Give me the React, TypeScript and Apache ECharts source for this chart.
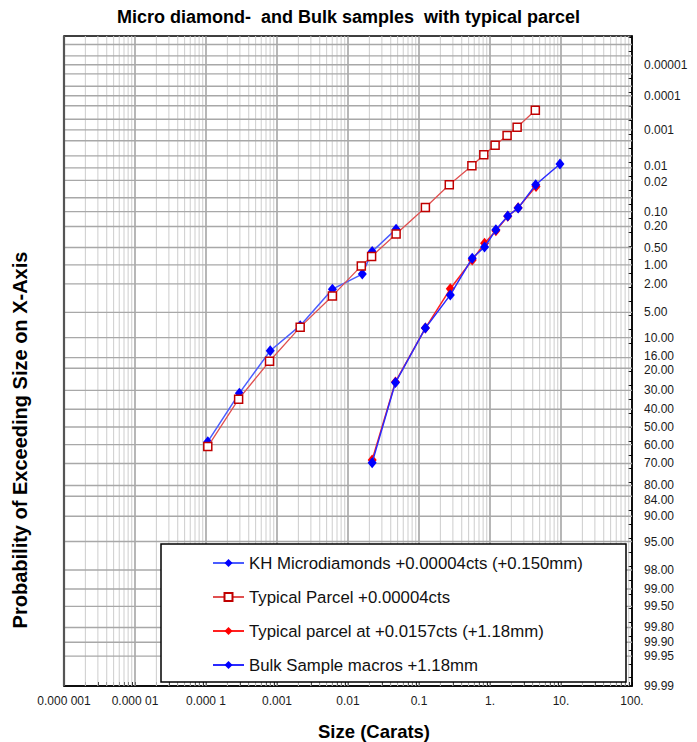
import React, { useEffect, useRef } from "react";
import * as echarts from "echarts";

// ---- Data ----
// sizes in carats, probabilities of exceeding in percent
const khCarats = [0.000106, 0.000295, 0.000803, 0.00212, 0.00603, 0.0159, 0.0219, 0.0476];
const khPct = [58.4, 31.4, 13.7, 7.3, 2.4, 1.41, 0.59, 0.226];

const parcelCarats = [0.000106, 0.000288, 0.000785, 0.00212, 0.00603, 0.0154, 0.0215, 0.0476, 0.123, 0.267, 0.556, 0.818, 1.18, 1.74, 2.41, 4.35];
const parcelPct = [61.1, 34.5, 17.3, 7.6, 3.0, 1.04, 0.72, 0.28, 0.0814, 0.0254, 0.00885, 0.00466, 0.00265, 0.00143, 0.00085, 0.000275];

const typicalCarats = [0.0219, 0.0466, 0.123, 0.276, 0.562, 0.838, 1.21, 1.78, 2.49, 4.45];
const typicalPct = [68.2, 25.9, 7.8, 2.37, 0.83, 0.42, 0.243, 0.125, 0.0825, 0.0277];

const bulkCarats = [0.0219, 0.0466, 0.123, 0.276, 0.562, 0.838, 1.21, 1.78, 2.49, 4.40, 9.67];
const bulkPct = [69.6, 26.2, 7.8, 2.9, 0.77, 0.49, 0.233, 0.123, 0.084, 0.0254, 0.008];

const seriesNames = [
  "KH Microdiamonds +0.00004cts (+0.150mm)",
  "Typical Parcel +0.00004cts",
  "Typical parcel at +0.0157cts (+1.18mm)",
  "Bulk Sample macros +1.18mm",
];

// ---- Axis ticks / labels ----
const xTickLabels = ["0.000 001", "0.000 01", "0.000 1", "0.001", "0.01", "0.1", "1.", "10.", "100."];
const xDecades = [-6, -5, -4, -3, -2, -1, 0, 1, 2];

const yTickLabels = [
  "0.00001", "0.0001", "0.001", "0.01", "0.02", "0.10", "0.20", "0.50", "1.00", "2.00", "5.00",
  "10.00", "16.00", "20.00", "30.00", "40.00", "50.00", "60.00", "70.00", "80.00", "84.00", "90.00",
  "95.00", "98.00", "99.00", "99.50", "99.80", "99.90", "99.95", "99.99",
];
const yGridPct = [
  "0.000002", "0.000005", "0.00001", "0.00002", "0.00005", "0.0001", "0.0002", "0.0005",
  "0.001", "0.002", "0.005", "0.01", "0.02", "0.05", "0.1", "0.2", "0.5", "1", "2", "5",
  "10", "16", "20", "30", "40", "50", "60", "70", "80", "84", "90", "95", "98", "99",
  "99.5", "99.8", "99.9", "99.95",
];
const yMinPct = 0.000001;
const yMaxPct = 99.99;

// small vertical nudges (px) for crowded right-hand labels
const labelNudge: Record<string, number> = {
  "0.01": -1.5, "0.02": 1.5, "16.00": -2, "20.00": 1.2, "80.00": -0.5, "84.00": 3.5,
};

// inverse standard normal CDF (Acklam)
function invNorm(p: number): number {
  const a = [-3.969683028665376e1, 2.209460984245205e2, -2.759285104469687e2, 1.38357751867269e2, -3.066479806614716e1, 2.506628277459239];
  const b = [-5.447609879822406e1, 1.615858368580409e2, -1.556989798598866e2, 6.680131188771972e1, -1.328068155288572e1];
  const c = [-7.784894002430293e-3, -3.223964580411365e-1, -2.400758277161838, -2.549732539343734, 4.374664141464968, 2.938163982698783];
  const d = [7.784695709041462e-3, 3.224671290700398e-1, 2.445134137142996, 3.754408661907416];
  const plow = 0.02425;
  const phigh = 1 - plow;
  if (p < plow) {
    const q = Math.sqrt(-2 * Math.log(p));
    return (((((c[0] * q + c[1]) * q + c[2]) * q + c[3]) * q + c[4]) * q + c[5]) /
      ((((d[0] * q + d[1]) * q + d[2]) * q + d[3]) * q + 1);
  }
  if (p <= phigh) {
    const q = p - 0.5;
    const r = q * q;
    return ((((((a[0] * r + a[1]) * r + a[2]) * r + a[3]) * r + a[4]) * r + a[5]) * q) /
      (((((b[0] * r + b[1]) * r + b[2]) * r + b[3]) * r + b[4]) * r + 1);
  }
  const q = Math.sqrt(-2 * Math.log(1 - p));
  return -(((((c[0] * q + c[1]) * q + c[2]) * q + c[3]) * q + c[4]) * q + c[5]) /
    ((((d[0] * q + d[1]) * q + d[2]) * q + d[3]) * q + 1);
}
const zOf = (pct: number) => invNorm(pct / 100);
const pts = (cts: number[], pct: number[]) => cts.map((c, i) => [Math.log10(c), zOf(pct[i])]);

const FONT = "'Liberation Sans', Arial, sans-serif";

export default function App() {
  const ref = useRef<HTMLDivElement>(null);
  useEffect(() => {
    if (!ref.current) return;
    const chart = echarts.init(ref.current, undefined, { renderer: "svg" });

    const XMIN = -6;
    const XMAX = 2;
    const YMIN = zOf(yMinPct);
    const YMAX = zOf(yMaxPct);

    const yTickZ: number[] = [];
    for (let k = -28; k <= 18; k++) yTickZ.push(k / 5);

    const xMinor: number[] = [];
    const vGrid: number[][] = [];
    for (let dcd = -6; dcd <= 1; dcd++) {
      for (let m = 1; m <= 9; m++) {
        const lx = dcd + Math.log10(m);
        xMinor.push(lx);
        if (!(dcd === -6 && m === 1)) vGrid.push([lx, YMIN, m === 1 ? 1 : 0]);
      }
    }
    xMinor.push(2);

    const hGrid = yGridPct.map((s) => [XMIN, zOf(parseFloat(s))]);
    const yLabelData = yTickLabels.map((s, i) => [XMAX, zOf(parseFloat(s)), i]);

    const option: any = {
      animation: false,
      backgroundColor: "#fff",
      title: {
        text: "Micro diamond-  and Bulk samples  with typical parcel",
        left: "center",
        top: 3,
        textStyle: { fontFamily: FONT, fontSize: 18, fontWeight: "bold", color: "#000" },
      },
      grid: {
        left: 64, right: 65, top: 36, bottom: 56,
        show: true, borderColor: "#000", borderWidth: 1.5, backgroundColor: "#fff",
      },
      xAxis: {
        type: "value", min: XMIN, max: XMAX,
        axisLine: { show: true, onZero: false, lineStyle: { color: "#000", width: 1.5 } },
        splitLine: { show: false },
        axisTick: { show: true, inside: true, length: 4, customValues: xMinor, lineStyle: { color: "#000" } },
        axisLabel: {
          customValues: xDecades, margin: 9, color: "#1a1a1a", fontFamily: FONT, fontSize: 12,
          formatter: (v: number) => {
            const i = xDecades.findIndex((d) => Math.abs(d - v) < 1e-6);
            return i >= 0 ? xTickLabels[i] : "";
          },
        },
      },
      yAxis: {
        type: "value", min: YMIN, max: YMAX, inverse: true, position: "right",
        axisLine: { show: true, onZero: false, lineStyle: { color: "#000", width: 1.5 } },
        splitLine: { show: false },
        axisTick: { show: true, inside: true, length: 4, customValues: yTickZ, lineStyle: { color: "#000" } },
        axisLabel: { show: false },
      },
      legend: {
        data: seriesNames,
        orient: "vertical",
        left: 212, top: 553, padding: 0,
        itemWidth: 31, itemHeight: 10, itemGap: 14,
        z: 100,
        textStyle: { fontFamily: FONT, fontSize: 16.8, color: "#111", lineHeight: 20 },
      },
      graphic: [
        {
          type: "rect", z: 50,
          shape: { x: 161, y: 544, width: 465, height: 138 },
          style: { fill: "#fff", stroke: "#000", lineWidth: 1.5 },
        },
        {
          type: "line", z: 50,
          shape: { x1: 64, y1: 36, x2: 64, y2: 686 },
          style: { stroke: "#555", lineWidth: 2.2 },
        },
        {
          type: "text", z: 50, x: 20, y: 440, rotation: Math.PI / 2,
          style: {
            text: "Probability of Exceeding Size on X-Axis", font: `bold 20px ${FONT}`,
            fill: "#000", textAlign: "center", textVerticalAlign: "middle",
          },
        },
        {
          type: "text", z: 50, x: 374, y: 731,
          style: {
            text: "Size (Carats)", font: `bold 18.5px ${FONT}`,
            fill: "#000", textAlign: "center", textVerticalAlign: "middle",
          },
        },
      ],
      series: [
        {
          type: "custom", name: "vgrid", silent: true, z: 1, clip: false,
          data: vGrid, encode: { x: 0, y: 1 },
          renderItem: (_p: any, api: any) => {
            const lx = api.value(0);
            const major = api.value(2) === 1;
            const a = api.coord([lx, YMIN]);
            const b = api.coord([lx, YMAX]);
            return {
              type: "line", silent: true,
              shape: { x1: a[0], y1: a[1], x2: b[0], y2: b[1] },
              style: { stroke: major ? "#989898" : "#cdcdcd", lineWidth: major ? 1.4 : 1 },
            };
          },
        },
        {
          type: "custom", name: "hgrid", silent: true, z: 1, clip: false,
          data: hGrid, encode: { x: 0, y: 1 },
          renderItem: (_p: any, api: any) => {
            const z = api.value(1);
            const a = api.coord([XMIN, z]);
            const b = api.coord([XMAX, z]);
            return {
              type: "line", silent: true,
              shape: { x1: a[0], y1: a[1], x2: b[0], y2: b[1] },
              style: { stroke: "#a8a8a8", lineWidth: 1.4 },
            };
          },
        },
        {
          type: "custom", name: "ylabels", silent: true, z: 1, clip: false,
          data: yLabelData, encode: { x: 0, y: 1 },
          renderItem: (_p: any, api: any) => {
            const z = api.value(1);
            const txt = yTickLabels[api.value(2)];
            const p = api.coord([XMAX, z]);
            return {
              type: "text", silent: true,
              x: p[0] + 12, y: p[1] + (labelNudge[txt] || 0),
              style: {
                text: txt, font: `12px ${FONT}`, fill: "#1a1a1a",
                textAlign: "left", textVerticalAlign: "middle",
              },
            };
          },
        },
        {
          type: "line", name: seriesNames[0], z: 3,
          data: pts(khCarats, khPct),
          symbol: "diamond", symbolSize: [9, 11],
          itemStyle: { color: "#0000ff" },
          lineStyle: { color: "#4a5cff", width: 1.5 },
        },
        {
          type: "line", name: seriesNames[1], z: 4,
          data: pts(parcelCarats, parcelPct),
          symbol: "rect", symbolSize: 8,
          itemStyle: { color: "#fff", borderColor: "#c00000", borderWidth: 1.5 },
          lineStyle: { color: "#e05050", width: 1.3 },
        },
        {
          type: "line", name: seriesNames[2], z: 5,
          data: pts(typicalCarats, typicalPct),
          symbol: "diamond", symbolSize: [9, 11],
          itemStyle: { color: "#ff0000" },
          lineStyle: { color: "#ff2020", width: 1.5 },
        },
        {
          type: "line", name: seriesNames[3], z: 6,
          data: pts(bulkCarats, bulkPct),
          symbol: "diamond", symbolSize: [9, 11],
          itemStyle: { color: "#0000ff" },
          lineStyle: { color: "#2a2aff", width: 1.5 },
        },
      ],
    };
    chart.setOption(option);
    return () => chart.dispose();
  }, []);
  return <div ref={ref} style={{ position: "absolute", left: 0, top: 0, width: 697, height: 742 }} />;
}
